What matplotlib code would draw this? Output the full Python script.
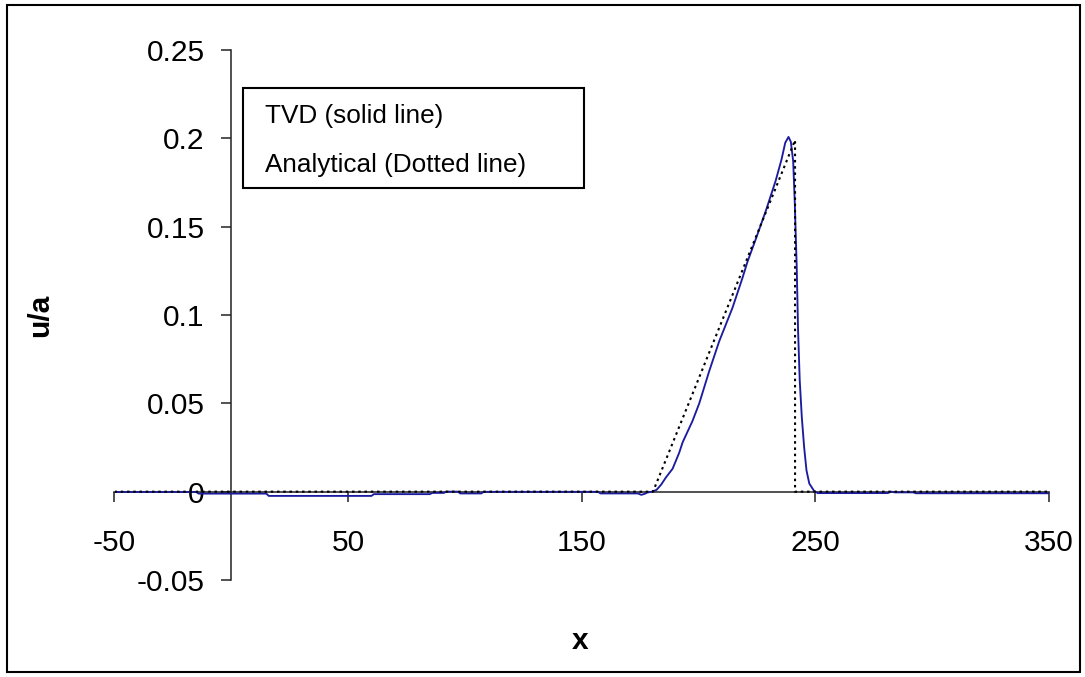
import matplotlib
matplotlib.use("Agg")
import matplotlib.pyplot as plt
from matplotlib.patches import Rectangle

# analytical solution: flat, linear ramp, then a shock back to zero
analytic_x = [-50, 180.5, 241.3, 241.3, 350]
analytic_u = [0.0, 0.0, 0.199, 0.0, 0.0]

# TVD scheme result
tvd_x = [-50, -15, -14, 15, 16, 60, 61, 85, 86, 91, 92, 97, 98, 107, 108,
         157, 158, 174, 175.5, 177, 178, 180, 182, 184, 186, 188.9, 191.7,
         193.2, 197.4, 200.3, 204.5, 208.8, 214.5, 218.8, 220.9, 224.5,
         228.8, 233, 235.5, 237.1, 238.5, 239.5, 240.5, 241.2, 241.6, 242.0,
         242.6, 243.3, 244.2, 245.2, 246.2, 247.4, 249.4, 251, 281, 282.5,
         284, 292, 293, 350]
tvd_u = [-0.0002, -0.0002, -0.0011, -0.0011, -0.0024, -0.0024, -0.0014,
         -0.0014, -0.0007, -0.0007, 0.0, 0.0, -0.0010, -0.0010, -0.0001,
         -0.0001, -0.0010, -0.0010, -0.0018, -0.0012, -0.0005, 0.0, 0.001,
         0.004, 0.008, 0.013, 0.022, 0.028, 0.040, 0.050, 0.068, 0.085,
         0.104, 0.121, 0.130, 0.143, 0.159, 0.176, 0.188, 0.1975, 0.2008,
         0.198, 0.187, 0.163, 0.145, 0.128, 0.091, 0.063, 0.042, 0.025,
         0.012, 0.0046, 0.0005, -0.0008, -0.0008, 0.0, -0.0004, -0.0004,
         -0.0009, -0.0009]

x_ticks = [-50, 50, 150, 250, 350]
y_ticks = [-0.05, 0, 0.05, 0.1, 0.15, 0.2, 0.25]
y_labels = ["-0.05", "0", "0.05", "0.1", "0.15", "0.2", "0.25"]
legend_lines = ["TVD (solid line)", "Analytical (Dotted line)"]

W, H = 1085, 677
plt.rcParams["font.family"] = ["Liberation Sans", "DejaVu Sans"]


def fx(px):
    return px / W


def fy(py):
    return 1 - py / H


fig = plt.figure(figsize=(W / 100, H / 100), dpi=100)
ax = fig.add_axes([fx(114.5), fy(580), fx(1049) - fx(114.5), fy(50) - fy(580)])

ax.plot(tvd_x, tvd_u, color="#1c1ca0", lw=1.35, zorder=3)
ax.plot(analytic_x, analytic_u, color="black", lw=1.5, ls=(0, (1.2, 1.8)),
        zorder=4)

ax.set_xlim(-50, 350)
ax.set_ylim(-0.05, 0.25)

for side in ("top", "right"):
    ax.spines[side].set_visible(False)
ax.spines["left"].set_position(("data", 0))
ax.spines["bottom"].set_position(("data", 0))
for side in ("left", "bottom"):
    ax.spines[side].set_linewidth(1.1)
    ax.spines[side].set_color("#222222")

ax.set_xticks(x_ticks)
ax.set_xticklabels([str(t) for t in x_ticks])
ax.set_yticks(y_ticks)
ax.set_yticklabels(y_labels)
ax.tick_params(axis="x", direction="out", length=7.2, width=1.1,
               color="#222222", pad=19.5, labelsize=21.5)
ax.tick_params(axis="y", direction="out", length=7.2, width=1.1,
               color="#222222", pad=12, labelsize=21.5)

ax.set_xlabel("x", fontsize=21.5, fontweight="bold")
ax.xaxis.set_label_coords(0.498, -0.088)
ax.set_ylabel("u/a", fontsize=21.5, fontweight="bold")
ax.yaxis.set_label_coords((54 - 114.5) / (1049 - 114.5), 0.5)

# text box with the series description
fig.add_artist(Rectangle((fx(243), fy(188)), fx(584) - fx(243),
                         fy(88) - fy(188), transform=fig.transFigure,
                         fill=False, ec="black", lw=1.5))
fig.text(fx(265), fy(123), legend_lines[0], fontsize=18.8, va="baseline")
fig.text(fx(265), fy(171.5), legend_lines[1], fontsize=18.8, va="baseline")

# chart area border
fig.add_artist(Rectangle((fx(7), fy(672)), fx(1080) - fx(7),
                         fy(5) - fy(672), transform=fig.transFigure,
                         fill=False, ec="black", lw=1.5))

fig.savefig("out.png", dpi=100)
